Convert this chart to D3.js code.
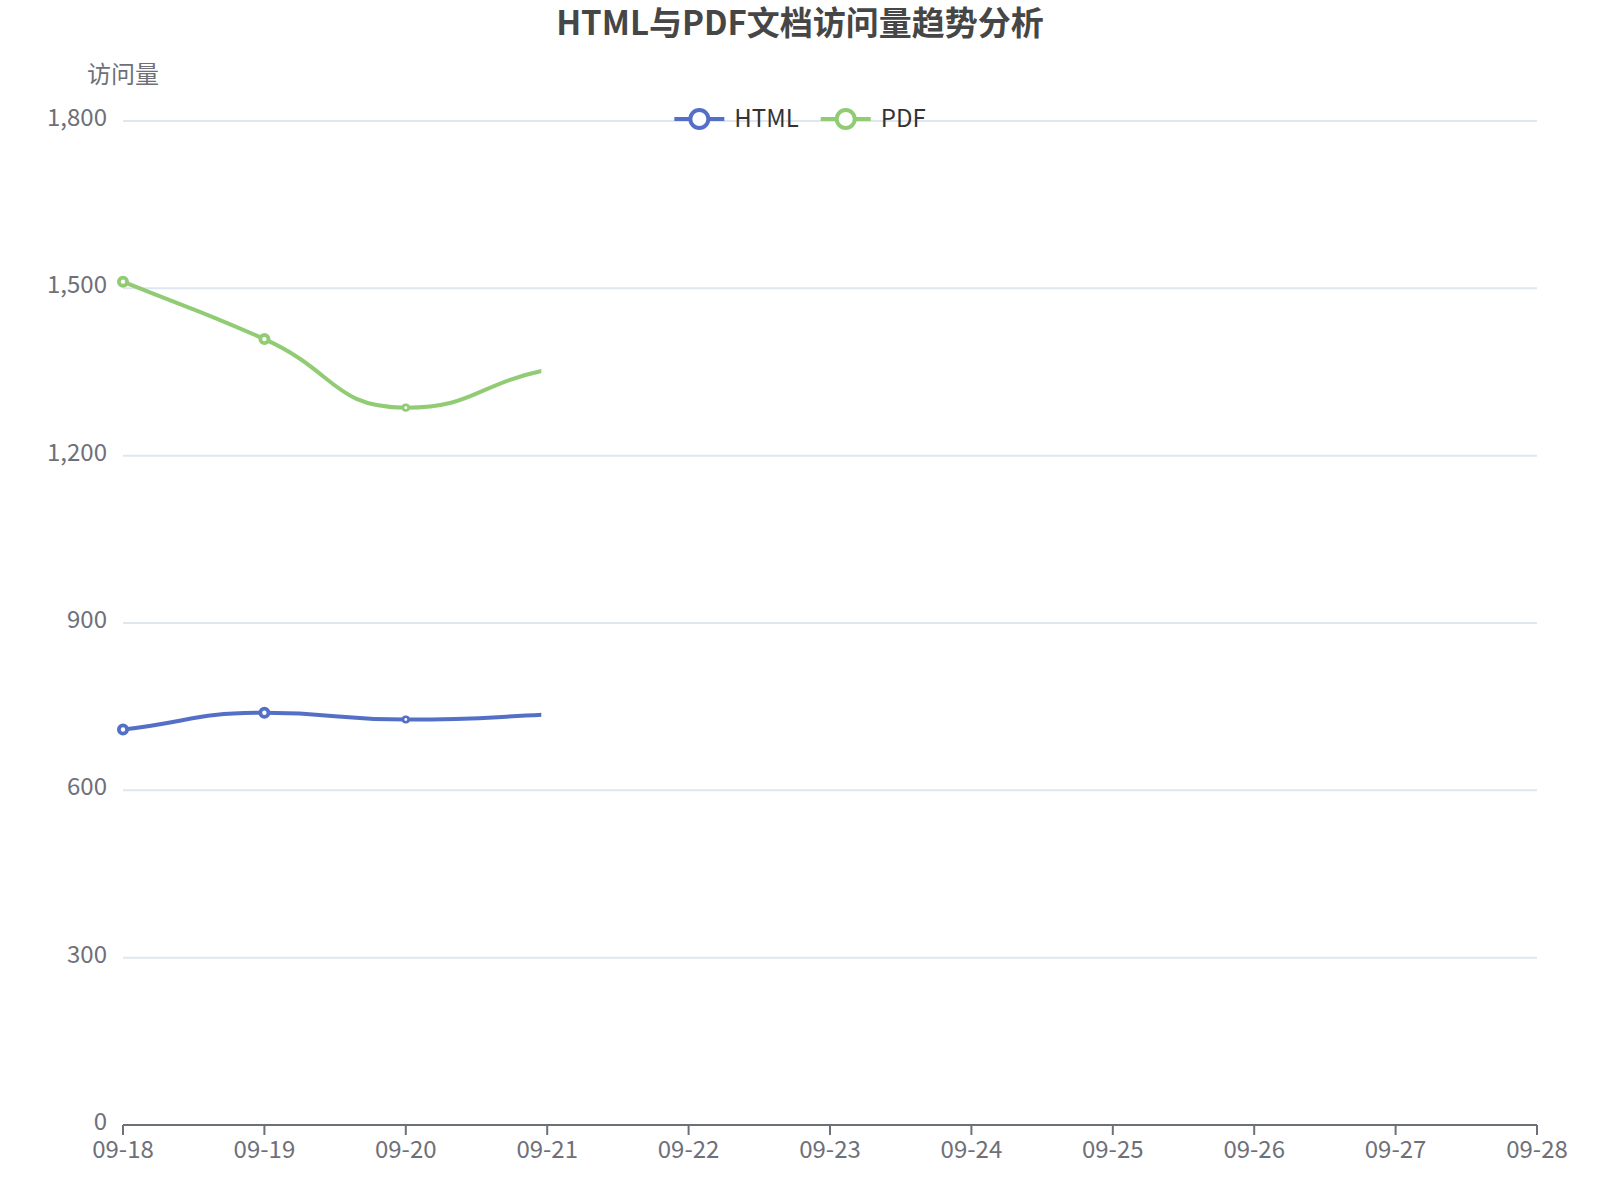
<!DOCTYPE html>
<html><head><meta charset="utf-8">
<script src="https://cdn.jsdelivr.net/npm/d3@7"></script>
<style>
body{margin:0;background:#fff}
svg{display:block}
text{font-family:"Noto Sans CJK SC","Noto Sans",sans-serif}
</style>
</head><body>
<svg id="chart" width="1600" height="1200"></svg>
<script>
// ---- data ----
const titleText = "HTML与PDF文档访问量趋势分析";
const yAxisName = "访问量";
const dates = ["2024-09-18", "2024-09-19", "2024-09-20", "2024-09-21", "2024-09-22"];
const htmlValues = [709, 739, 727, 736, 752];
const pdfValues = [1512, 1409, 1286, 1354, 1388];
const seriesNames = ["HTML", "PDF"];
const seriesColors = ["#5470c6", "#91cc75"];
const axisStartDate = "2024-09-18";
const axisEndDate = "2024-09-28";
const yTicks = [0, 300, 600, 900, 1200, 1500, 1800];
const revealUntil = "2024-09-20T23:00"; // snapshot taken mid-animation: line drawn up to here

(function () {
const W = 1600, H = 1200;
const gLeft = 123, gRight = 1537, gTop = 121, gBottom = 1125;
const parseDay = d3.timeParse("%Y-%m-%d");
const parseDT = d3.timeParse("%Y-%m-%dT%H:%M");
const fmt = d3.timeFormat("%m-%d");

const svg = d3.select("#chart");
svg.append("rect").attr("width", W).attr("height", H).attr("fill", "#fff");

const x = d3.scaleTime().domain([parseDay(axisStartDate), parseDay(axisEndDate)]).range([gLeft, gRight]);
const y = d3.scaleLinear().domain([0, d3.max(yTicks)]).range([gBottom, gTop]);

// title
svg.append("text").attr("x", 800).attr("y", 35).attr("text-anchor", "middle")
  .attr("font-size", 33).attr("font-weight", "bold").attr("fill", "#464646").text(titleText);

// y axis name
svg.append("text").attr("x", gLeft).attr("y", 83).attr("text-anchor", "middle")
  .attr("font-size", 24).attr("fill", "#6E7079").text(yAxisName);

// grid lines
svg.append("g").selectAll("line").data(yTicks.filter(v => v !== 0)).join("line")
  .attr("x1", gLeft).attr("x2", gRight)
  .attr("y1", d => y(d)).attr("y2", d => y(d))
  .attr("stroke", "#E0E6F1").attr("stroke-width", 2);

// y labels
const fmtNum = d3.format(",");
svg.append("g").selectAll("text").data(yTicks).join("text")
  .attr("x", gLeft - 16).attr("y", d => y(d) + 5)
  .attr("text-anchor", "end").attr("font-size", 24).attr("fill", "#6E7079")
  .text(d => fmtNum(d));

// x axis
const xTicks = x.ticks(d3.timeDay.every(1));
svg.append("line").attr("x1", gLeft).attr("x2", gRight).attr("y1", gBottom).attr("y2", gBottom)
  .attr("stroke", "#6E7079").attr("stroke-width", 2);
svg.append("g").selectAll("line").data(xTicks).join("line")
  .attr("x1", d => x(d)).attr("x2", d => x(d)).attr("y1", gBottom).attr("y2", gBottom + 10)
  .attr("stroke", "#6E7079").attr("stroke-width", 2);
svg.append("g").selectAll("text").data(xTicks).join("text")
  .attr("x", d => x(d)).attr("y", gBottom + 33).attr("text-anchor", "middle")
  .attr("font-size", 24).attr("fill", "#6E7079").text(d => fmt(d));

// clip for partial reveal
const revealX = x(parseDT(revealUntil));
svg.append("clipPath").attr("id", "reveal").append("rect")
  .attr("x", 0).attr("y", 0).attr("width", revealX).attr("height", H);

// ECharts-like smooth bezier (smooth = 0.5), flat tangents at local extrema
function smoothPath(P, smooth) {
  const p = d3.path();
  p.moveTo(P[0][0], P[0][1]);
  let cpx = P[0][0], cpy = P[0][1];
  for (let i = 0; i < P.length; i++) {
    const [px, py] = P[i];
    const prev = P[i - 1] || P[i], next = P[i + 1];
    let ncx, ncy, acx, acy;
    if (!next) { ncx = px; ncy = py; }
    else {
      let vx = next[0] - prev[0], vy = next[1] - prev[1];
      if (P[i - 1] && (py - prev[1]) * (next[1] - py) <= 0) vy = 0;
      const l0 = Math.hypot(px - prev[0], py - prev[1]);
      const l1 = Math.hypot(next[0] - px, next[1] - py);
      const r = l1 / (l0 + l1);
      ncx = px - vx * smooth * (1 - r); ncy = py - vy * smooth * (1 - r);
      acx = px + vx * smooth * r; acy = py + vy * smooth * r;
    }
    if (i > 0) p.bezierCurveTo(cpx, cpy, ncx, ncy, px, py);
    cpx = acx; cpy = acy;
  }
  return p.toString();
}

const series = [htmlValues, pdfValues];
series.forEach((vals, i) => {
  const pts = dates.map((d, j) => ({ date: parseDay(d), value: vals[j] }));
  const pix = pts.map(d => [x(d.date), y(d.value)]);
  svg.append("path").attr("d", smoothPath(pix, 0.5))
    .attr("fill", "none").attr("stroke", seriesColors[i]).attr("stroke-width", 4)
    .attr("stroke-linejoin", "round").attr("clip-path", "url(#reveal)");
  const visible = pts.filter(p => x(p.date) <= revealX);
  svg.append("g").selectAll("circle").data(visible).join("circle")
    .attr("cx", p => x(p.date)).attr("cy", p => y(p.value))
    .each(function (p) {
      const s = Math.max(0, Math.min(1, (revealX - x(p.date)) / 220));
      d3.select(this).attr("r", 3.5 * s + 0.6).attr("stroke-width", 3 * s + 0.8);
    })
    .attr("fill", "#fff").attr("stroke", seriesColors[i]);
});

// legend
const legend = svg.append("g");
const items = seriesNames.map((name, i) => {
  const g = legend.append("g");
  g.append("line").attr("x1", 0).attr("x2", 50).attr("y1", 0).attr("y2", 0)
    .attr("stroke", seriesColors[i]).attr("stroke-width", 4);
  g.append("circle").attr("cx", 25).attr("cy", 0).attr("r", 9)
    .attr("fill", "#fff").attr("stroke", seriesColors[i]).attr("stroke-width", 4);
  const t = g.append("text").attr("x", 60).attr("y", 8).attr("font-size", 24)
    .attr("fill", "#333").text(name);
  return { g, w: 60 + t.node().getComputedTextLength() };
});
const gap = 22;
const total = d3.sum(items, d => d.w) + gap * (items.length - 1);
let cx = 800 - total / 2;
items.forEach(it => { it.g.attr("transform", `translate(${cx},119)`); cx += it.w + gap; });
})();
</script>
</body></html>
